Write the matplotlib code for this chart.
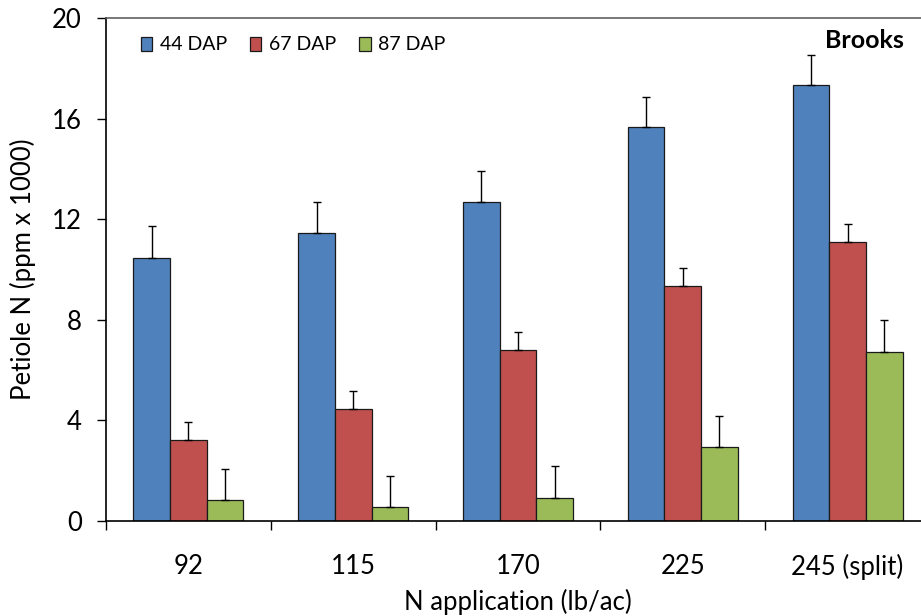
import matplotlib
matplotlib.use("Agg")
import matplotlib.pyplot as plt
import numpy as np

categories = ["92", "115", "170", "225", "245 (split)"]
series_names = ["44 DAP", "67 DAP", "87 DAP"]
dap44 = [10.46, 11.45, 12.67, 15.66, 17.32]
dap67 = [3.22, 4.47, 6.81, 9.36, 11.08]
dap87 = [0.82, 0.54, 0.90, 2.95, 6.72]
err44 = [1.26, 1.22, 1.26, 1.20, 1.21]
err67 = [0.70, 0.71, 0.72, 0.71, 0.72]
err87 = [1.24, 1.25, 1.27, 1.22, 1.27]
y_ticks = [0, 4, 8, 12, 16, 20]
colors = ["#4F81BD", "#C0504D", "#9BBB59"]

plt.rcParams['font.family'] = ['Lato', 'DejaVu Sans']

W, H = 921, 616
fig = plt.figure(figsize=(W / 100, H / 100), dpi=100)
ax = fig.add_axes([106 / W, (H - 521) / H, (930 - 106) / W, (521 - 18) / H])

x = np.arange(len(categories))
bw = 0.2225
series = [dap44, dap67, dap87]
errs = [err44, err67, err87]
for i, (vals, e) in enumerate(zip(series, errs)):
    pos = x + (i - 1) * bw
    ax.bar(pos, vals, width=bw, color=colors[i], edgecolor="#1a1a1a",
           linewidth=0.9, label=series_names[i], zorder=2)
    ax.errorbar(pos, vals, yerr=[np.zeros(len(vals)), e], fmt="none",
                ecolor="black", elinewidth=1.0, capsize=2.9, capthick=1.0,
                zorder=3)

ax.set_xlim(-0.5, len(categories) - 0.5)
ax.set_ylim(0, 20)
ax.set_yticks(y_ticks)
ax.set_yticklabels([str(v) for v in y_ticks], fontsize=18.5)
ax.set_xticks(x)
ax.set_xticklabels(categories, fontsize=18.5)
ax.set_xticks(np.arange(len(categories) + 1) - 0.5, minor=True)
ax.tick_params(axis="x", which="major", length=0, pad=24)
ax.tick_params(axis="x", which="minor", length=6.5, width=1.0, direction="out")
ax.tick_params(axis="y", length=6.5, width=1.0, direction="out", pad=11)

ax.spines["right"].set_visible(False)
ax.spines["top"].set_color("#606060")
ax.spines["top"].set_linewidth(1.2)
ax.spines["left"].set_linewidth(1.2)
ax.spines["bottom"].set_linewidth(1.2)

ax.set_ylabel("Petiole N (ppm x 1000)", fontsize=18.5)
ax.set_xlabel("N application (lb/ac)", fontsize=18.5, labelpad=6)
ax.yaxis.set_label_coords(-0.085, 0.5)

ax.text(904 / W, (H - 40) / H, "Brooks", transform=fig.transFigure,
        fontsize=18, fontweight="bold", ha="right", va="center")

leg = ax.legend(loc="center left", bbox_to_anchor=(131 / W, (H - 45) / H),
                bbox_transform=fig.transFigure, ncol=3, frameon=False,
                fontsize=14, handlelength=0.6, handleheight=0.7,
                handletextpad=0.4, columnspacing=1.15, borderpad=0)

fig.savefig("out.png", dpi=100)
